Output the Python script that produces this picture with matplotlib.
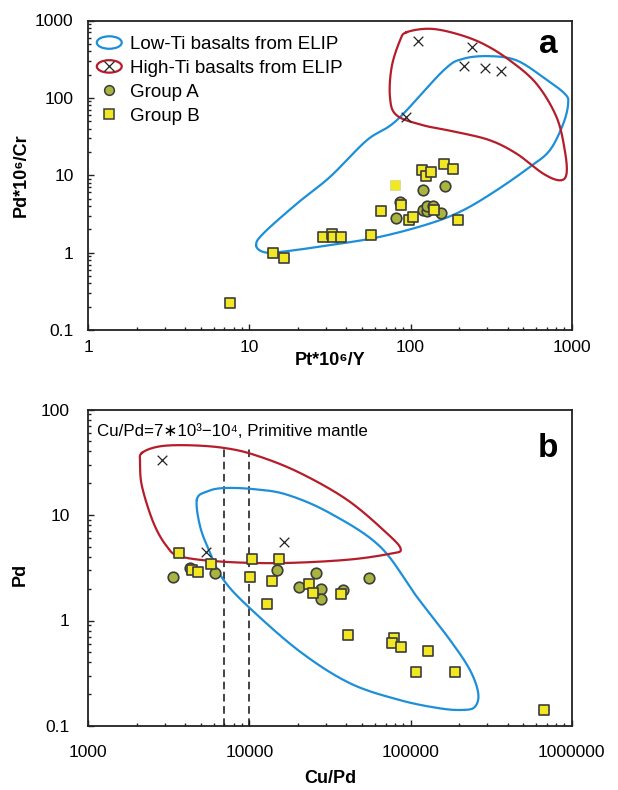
import numpy as np
import matplotlib
matplotlib.use("Agg")
import matplotlib.pyplot as plt
import matplotlib.patches as mpatches
from matplotlib.lines import Line2D
from matplotlib.legend_handler import HandlerPatch, HandlerTuple
from matplotlib.ticker import LogLocator, FuncFormatter, NullFormatter

plt.rcParams['font.family'] = ['Liberation Sans', 'DejaVu Sans']

# ---------------- data: panel a (Pt*1e6/Y vs Pd*1e6/Cr) ----------------
a_groupA_x = [86.5, 80.9, 120, 164, 119, 126, 127, 137, 154]
a_groupA_y = [4.5, 2.82, 6.5, 7.3, 3.54, 3.47, 3.99, 3.99, 3.21]
a_groupB_x = [7.55, 13.96, 16.4, 28.8, 32.6, 33.2, 37.1, 56.8, 65.9, 87.7,
              97.5, 103, 117, 124, 134, 140, 161, 183, 196]
a_groupB_y = [0.223, 0.98, 0.84, 1.61, 1.72, 1.57, 1.61, 1.67, 3.44, 4.15,
              2.61, 2.88, 11.8, 9.7, 11.0, 3.54, 14.0, 12.2, 2.61]
a_groupB_noedge_x = [79.6]
a_groupB_noedge_y = [7.5]
a_highTi_x = [110.7, 239, 214, 290, 362, 94]
a_highTi_y = [547, 453, 262, 243, 220, 56.5]

a_lowTi_env_x = [11.0, 12.2, 19.7, 31.6, 53.5, 82, 160, 212, 311, 455, 665, 906,
                 950, 885, 731, 550, 342, 212, 132, 64.6, 31.6, 15.5, 12.2]
a_lowTi_env_y = [1.25, 1.77, 4.3, 9.5, 28.3, 51.3, 226, 320, 346, 305, 185, 113,
                 84, 46, 21, 12.8, 6.4, 3.53, 2.38, 1.6, 1.25, 1.02, 1.02]
a_highTi_env_x = [94.6, 132, 193, 282, 413, 605, 805, 906, 929, 844, 665, 455,
                  311, 193, 120, 82, 74.5, 76.3, 86]
a_highTi_env_y = [706, 782, 673, 500, 305, 152, 56.5, 21, 10.5, 8.6, 10.5, 19,
                  28.3, 36.2, 44.2, 59.5, 102, 250, 552]

# ---------------- data: panel b (Cu/Pd vs Pd) ----------------
b_groupA_x = [3365, 4250, 6150, 14920, 25800, 55000, 20300, 27700, 27800, 38300]
b_groupA_y = [2.6, 3.14, 2.83, 2.98, 2.83, 2.55, 2.1, 2.01, 1.59, 1.95]
b_groupB_x = [3664, 4393, 4808, 5794, 10440, 15220, 10040, 13830, 23350, 24930,
              37170, 12880, 41100, 79300, 77000, 87700, 128300, 108600, 188500, 674000]
b_groupB_y = [4.39, 3.03, 2.9, 3.45, 3.82, 3.82, 2.58, 2.38, 2.23, 1.84,
              1.80, 1.44, 0.724, 0.684, 0.608, 0.557, 0.514, 0.327, 0.323, 0.143]
b_highTi_x = [2877, 5383, 16400]
b_highTi_y = [33.3, 4.5, 5.6]

b_lowTi_env_x = [4720, 5445, 6900, 10590, 17060, 31650, 64600, 109000, 175500,
                 233500, 263000, 250700, 212000, 152000, 85900, 42100, 20600,
                 9950, 6900, 5700, 4940]
b_lowTi_env_y = [14, 16.7, 18.0, 17.6, 15.6, 10.4, 5.03, 1.69, 0.655, 0.34,
                 0.204, 0.152, 0.142, 0.147, 0.176, 0.254, 0.507, 1.33, 2.43,
                 4.35, 7.8]
b_highTi_env_x = [2153, 2793, 4285, 6900, 10590, 19680, 40200, 71100, 86900,
                  74500, 40200, 15500, 6580, 3717, 3073, 2540, 2153, 2099]
b_highTi_env_y = [38.8, 44.8, 45.8, 43.3, 37.4, 25.9, 14, 6.74, 4.75, 4.29,
                  3.76, 3.5, 3.62, 4.05, 5.03, 8.4, 18.7, 31.2]

# primitive mantle Cu/Pd range
pm_cu_pd = [7000, 10000]
pm_line_top = 43

# ---------------- styling ----------------
BLUE = '#1d8fd8'
RED = '#b51d2a'
OLIVE = '#a9b43e'
YELLOW = '#f1e823'
EDGE = '#3c3c3c'


def smooth_closed(xs, ys, n=30):
    P = np.column_stack([np.log10(xs), np.log10(ys)])
    N = len(P)
    segs = []
    t = np.linspace(0, 1, n, endpoint=False)[:, None]
    for i in range(N):
        p0, p1, p2, p3 = P[(i - 1) % N], P[i], P[(i + 1) % N], P[(i + 2) % N]
        seg = 0.5 * ((2 * p1) + (-p0 + p2) * t + (2 * p0 - 5 * p1 + 4 * p2 - p3) * t ** 2
                     + (-p0 + 3 * p1 - 3 * p2 + p3) * t ** 3)
        segs.append(seg)
    segs.append(P[:1])
    out = np.vstack(segs)
    return 10 ** out[:, 0], 10 ** out[:, 1]


def fmt(v, pos):
    if v >= 1:
        return f'{v:.0f}'
    return f'{v:g}'


def style_axes(ax, xlim, ylim, ypad, xpad):
    ax.set_xscale('log')
    ax.set_yscale('log')
    ax.set_xlim(*xlim)
    ax.set_ylim(*ylim)
    for ax_ in (ax.xaxis, ax.yaxis):
        ax_.set_major_locator(LogLocator(base=10, numticks=20))
        ax_.set_minor_locator(LogLocator(base=10, subs=np.arange(2, 10), numticks=20))
        ax_.set_major_formatter(FuncFormatter(fmt))
        ax_.set_minor_formatter(NullFormatter())
    ax.tick_params(which='both', direction='in', top=False, right=False,
                   labelsize=12.5, width=1.0, color='#222222')
    ax.tick_params(which='major', length=4.5)
    ax.tick_params(which='minor', length=2.5)
    ax.tick_params(axis='y', which='major', pad=ypad)
    ax.tick_params(axis='x', which='major', pad=xpad)
    for s in ax.spines.values():
        s.set_linewidth(1.3)
        s.set_color('#222222')


def draw_points(ax, Ax, Ay, Bx, By, Hx, Hy):
    ax.scatter(Hx, Hy, marker='x', s=48, c='#222222', linewidths=0.9, zorder=5)
    ax.scatter(Ax, Ay, marker='o', s=58, c=OLIVE, edgecolors=EDGE, linewidths=1.2, zorder=6)
    ax.scatter(Bx, By, marker='s', s=62, c=YELLOW, edgecolors=EDGE, linewidths=1.2, zorder=7)


fig = plt.figure(figsize=(6.18, 7.90), dpi=100)
L, R = 88.3 / 618, 571.7 / 618
axa = fig.add_axes([L, 1 - 330 / 790, R - L, (330 - 20.5) / 790])
axb = fig.add_axes([L, 1 - 726 / 790, R - L, (726 - 409.5) / 790])

LABEL_FONT = ['Liberation Sans', 'DejaVu Sans']

# ---- panel a ----
style_axes(axa, (1, 1000), (0.1, 1000), ypad=10.5, xpad=7.5)
ex, ey = smooth_closed(a_lowTi_env_x, a_lowTi_env_y)
axa.plot(ex, ey, color=BLUE, lw=1.6, zorder=3)
ex, ey = smooth_closed(a_highTi_env_x, a_highTi_env_y)
axa.plot(ex, ey, color=RED, lw=1.6, zorder=3)
draw_points(axa, a_groupA_x, a_groupA_y, a_groupB_x, a_groupB_y, a_highTi_x, a_highTi_y)
axa.scatter(a_groupB_noedge_x, a_groupB_noedge_y, marker='s', s=62, c=YELLOW,
            edgecolors='#d8d8a0', linewidths=0.6, zorder=7)
axa.set_xlabel('Pt*10\u2076/Y', fontsize=13, fontweight='bold', family=LABEL_FONT)
axa.set_ylabel('Pd*10\u2076/Cr', fontsize=13, fontweight='bold', family=LABEL_FONT)
axa.xaxis.label.set_va('center')
axa.yaxis.label.set_va('center')
axa.xaxis.set_label_coords(0.5, -0.100)
axa.yaxis.set_label_coords(-0.139, 0.5)
axa.text(0.951, 0.921, 'a', transform=axa.transAxes, fontsize=24, fontweight='bold',
         ha='center', va='center')


def make_ellipse(legend, orig_handle, xdescent, ydescent, width, height, fontsize):
    return mpatches.Ellipse(xy=(0.5 * width - xdescent, 0.5 * height - ydescent),
                            width=width, height=height * 0.95)


h_low = mpatches.Ellipse((0, 0), 1, 1, fill=False, edgecolor=BLUE, linewidth=1.6)
h_high_e = mpatches.Ellipse((0, 0), 1, 1, fill=False, edgecolor=RED, linewidth=1.6)
h_high_x = Line2D([], [], marker='x', ls='', color='#222222', ms=6.5, mew=0.9)
h_A = Line2D([], [], marker='o', ls='', mfc=OLIVE, mec=EDGE, ms=7, mew=1.1)
h_B = Line2D([], [], marker='s', ls='', mfc=YELLOW, mec=EDGE, ms=6.5, mew=1.1)
leg = axa.legend([h_low, (h_high_e, h_high_x), h_A, h_B],
                 ['Low-Ti basalts from ELIP', 'High-Ti basalts from ELIP', 'Group A', 'Group B'],
                 handler_map={mpatches.Ellipse: HandlerPatch(patch_func=make_ellipse),
                              tuple: HandlerTuple(ndivide=1)},
                 loc='upper left', bbox_to_anchor=(0.0176, 0.950), frameon=False,
                 fontsize=13.5, handlelength=1.33, handleheight=0.7, handletextpad=0.45,
                 labelspacing=0.36, borderpad=0, borderaxespad=0)

# ---- panel b ----
style_axes(axb, (1000, 1000000), (0.1, 100), ypad=13.5, xpad=14)
ex, ey = smooth_closed(b_lowTi_env_x, b_lowTi_env_y)
axb.plot(ex, ey, color=BLUE, lw=1.6, zorder=3)
ex, ey = smooth_closed(b_highTi_env_x, b_highTi_env_y)
axb.plot(ex, ey, color=RED, lw=1.6, zorder=3)
for v in pm_cu_pd:
    axb.plot([v, v], [0.1, pm_line_top], color='#111111', lw=1.1, dashes=(5, 3), zorder=2)
draw_points(axb, b_groupA_x, b_groupA_y, b_groupB_x, b_groupB_y, b_highTi_x, b_highTi_y)
axb.text(0.019, 0.930, 'Cu/Pd=7\u221710\u00b3\u221210\u2074, Primitive mantle',
         transform=axb.transAxes, fontsize=12.2, ha='left', va='center', family=LABEL_FONT)
axb.set_xlabel('Cu/Pd', fontsize=13, fontweight='bold')
axb.set_ylabel('Pd', fontsize=13, fontweight='bold')
axb.xaxis.label.set_va('center')
axb.yaxis.label.set_va('center')
axb.xaxis.set_label_coords(0.5, -0.167)
axb.yaxis.set_label_coords(-0.141, 0.48)
axb.text(0.951, 0.878, 'b', transform=axb.transAxes, fontsize=24, fontweight='bold',
         ha='center', va='center')

fig.savefig('out.png', dpi=100, facecolor='white')
